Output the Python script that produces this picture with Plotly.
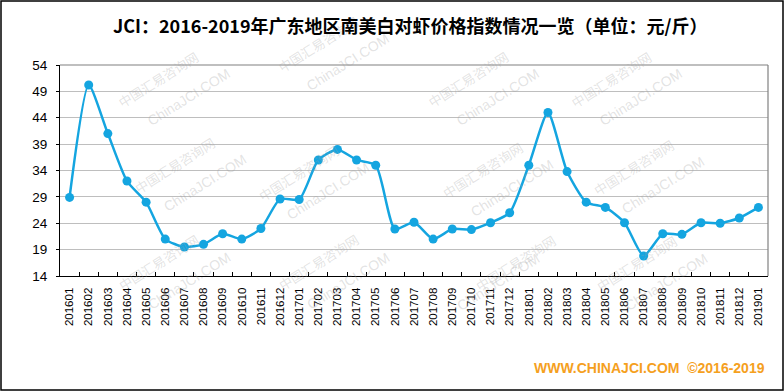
import plotly.graph_objects as go

months = ["201601","201602","201603","201604","201605","201606","201607","201608",
          "201609","201610","201611","201612","201701","201702","201703","201704",
          "201705","201706","201707","201708","201709","201710","201711","201712",
          "201801","201802","201803","201804","201805","201806","201807","201808",
          "201809","201810","201811","201812","201901"]
prices = [28.9, 50.2, 41.0, 32.0, 28.0, 21.0, 19.5, 20.0,
          22.0, 21.0, 23.0, 28.6, 28.5, 36.0, 38.0, 36.0,
          35.0, 22.9, 24.2, 21.0, 22.9, 22.8, 24.1, 26.0,
          35.0, 45.0, 33.8, 28.0, 27.0, 24.1, 17.8, 22.0,
          21.9, 24.1, 24.0, 25.0, 27.0]
y_ticks = [14, 19, 24, 29, 34, 39, 44, 49, 54]

title_text = "JCI：2016-2019年广东地区南美白对虾价格指数情况一览（单位：元/斤）"
footer_text = "WWW.CHINAJCI.COM  ©2016-2019"

W, H = 784, 391
L, R, T, B = 60, 16, 65, 115
pw, ph = W - L - R, H - T - B

def px(x):
    return (x - L) / pw

def py(y):
    return (H - B - y) / ph

fig = go.Figure()
fig.add_trace(go.Scatter(
    x=months, y=prices, mode="lines+markers",
    line=dict(color="#14A5E0", width=2.5, shape="spline", smoothing=0.6),
    marker=dict(color="#14A5E0", size=9),
    hoverinfo="x+y", showlegend=False,
))

annotations = []
# watermarks
wm_pos = [(112, 45), (318, 10), (468, 45), (658, 45),
          (128, 165), (298, 173), (482, 170), (680, 167),
          (112, 297), (318, 297), (515, 298), (683, 298)]
for (cx, cy) in wm_pos:
    annotations.append(dict(x=px(cx), y=py(cy), xref="paper", yref="paper",
                            text="中国汇易咨询网", showarrow=False, textangle=-32,
                            font=dict(family="Noto Sans CJK SC", size=13,
                                      color="rgba(160,160,160,0.3)")))
    annotations.append(dict(x=px(cx + 30), y=py(cy + 18), xref="paper", yref="paper",
                            text="ChinaJCI.COM", showarrow=False, textangle=-32,
                            font=dict(family="Arial", size=14,
                                      color="rgba(160,160,160,0.3)")))

annotations.append(dict(x=px(410), y=py(25), xref="paper", yref="paper",
                        text="<b>" + title_text + "</b>", showarrow=False,
                        xanchor="center", yanchor="middle",
                        font=dict(family="Noto Sans CJK SC", size=18, color="#000000")))
annotations.append(dict(x=px(767), y=py(368), xref="paper", yref="paper",
                        text="<b>" + footer_text + "</b>", showarrow=False,
                        xanchor="right", yanchor="middle",
                        font=dict(family="Liberation Sans, Arial", size=14, color="#F5A01E")))

shapes = [
    # outer border
    dict(type="rect", xref="paper", yref="paper", x0=px(1), x1=px(W - 1),
         y0=py(H - 1), y1=py(1), line=dict(color="#000000", width=1.5), layer="below"),
    # right / top plot frame
    dict(type="line", xref="paper", yref="paper", x0=1, x1=1, y0=0, y1=1,
         line=dict(color="#808080", width=1.2)),
    dict(type="line", xref="paper", yref="paper", x0=0, x1=1, y0=1, y1=1,
         line=dict(color="#808080", width=1.2)),
]

fig.update_layout(
    width=W, height=H,
    margin=dict(l=L, r=R, t=T, b=B),
    paper_bgcolor="white", plot_bgcolor="white",
    annotations=annotations, shapes=shapes,
    xaxis=dict(
        type="category", categoryorder="array", categoryarray=months,
        tickangle=-90, tickfont=dict(family="Arial", size=11.5, color="#000000"),
        showline=True, linecolor="#000000", linewidth=1.2,
        ticks="inside", ticklen=4, tickcolor="#000000", tickson="boundaries",
        ticklabelstandoff=6,
        showgrid=False, range=[-0.5, len(months) - 0.5], zeroline=False,
    ),
    yaxis=dict(
        range=[14, 54], tickvals=y_ticks,
        tickfont=dict(family="Arial", size=13.5, color="#000000"),
        showline=True, linecolor="#000000", linewidth=1.2,
        ticks="outside", ticklen=3, tickcolor="#000000",
        ticklabelstandoff=6,
        showgrid=True, gridcolor="#BEBEBE", gridwidth=1.2, zeroline=False,
    ),
)

fig.write_html("out.html", config={"displayModeBar": False},
               post_script="document.body.style.margin='0';document.body.style.overflow='hidden';")
